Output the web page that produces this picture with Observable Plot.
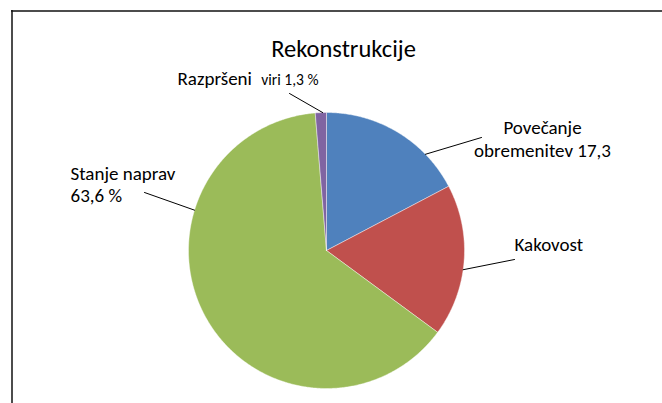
<!DOCTYPE html>
<html>
<head>
<meta charset="utf-8">
<script src="https://cdn.jsdelivr.net/npm/d3@7"></script>
<script src="https://cdn.jsdelivr.net/npm/@observablehq/plot@0.6"></script>
<style>
  html, body { margin: 0; padding: 0; background: #fff; }
  svg { display: block; }
</style>
</head>
<body>
<div id="chart"></div>
<script>
// ---- data ----
const categories = ["Povečanje obremenitev", "Kakovost", "Stanje naprav", "Razpršeni viri"];
const values = [17.3, 17.8, 63.6, 1.3];
const colors = ["#4F81BD", "#C0504D", "#9BBB59", "#8064A2"];
const title = "Rekonstrukcije";
const labelLines = [
  ["Povečanje", "obremenitev 17,3"],
  ["Kakovost"],
  ["Stanje naprav", "63,6 %"]
];
const smallLabelMain = "Razpršeni";
const smallLabelRest = "viri 1,3 %";

// ---- layout (not data) ----
const W = 662, H = 403;
const cx = 326, cy = 250, R = 138;
const layout = [
  {angle: 45.8, ex: 481, ey: 137, tx: 542, ty: [133, 156], anchor: "middle"},
  {angle: 98,   ex: 514, ey: 259, tx: 514, ty: [250], anchor: "start"},
  {angle: 287,  ex: 144, ey: 192, tx: 70,  ty: [179, 201.5], anchor: "start"},
  {angle: 358.4, ex: 289, ey: 93, tx: 177, ty: [84.5], anchor: "start"}
];

// ---- build slices ----
const arcs = d3.pie().sort(null).startAngle(0).endAngle(2 * Math.PI)(values);
const pts = [];
arcs.forEach((a, i) => {
  const name = categories[i];
  pts.push({name, x: cx, y: cy});
  const n = Math.max(2, Math.ceil((a.endAngle - a.startAngle) / (Math.PI / 360)));
  for (let k = 0; k <= n; k++) {
    const t = a.startAngle + (a.endAngle - a.startAngle) * k / n;
    pts.push({name, x: cx + R * Math.sin(t), y: cy - R * Math.cos(t)});
  }
  pts.push({name, x: cx, y: cy});
});

const leaders = [];
layout.forEach((l, i) => {
  const t = l.angle * Math.PI / 180;
  leaders.push({id: i, x: cx + R * Math.sin(t), y: cy - R * Math.cos(t)});
  leaders.push({id: i, x: l.ex, y: l.ey});
});

const texts = [];
labelLines.forEach((lines, i) => {
  lines.forEach((s, j) => texts.push({text: s, x: layout[i].tx, y: layout[i].ty[j], anchor: layout[i].anchor}));
});

const font = "Carlito, Calibri, Lato, 'Open Sans', sans-serif";
const textMark = (anchor) => Plot.text(texts.filter(d => d.anchor === anchor), {
  x: "x", y: "y", text: "text", textAnchor: anchor, fontSize: 19, fontWeight: 400, fill: "#000", lineAnchor: "bottom"
});

const chart = Plot.plot({
  width: W, height: H,
  margin: 0,
  x: {domain: [0, W], range: [0, W], axis: null},
  y: {domain: [0, H], range: [0, H], axis: null},
  color: {domain: categories, range: colors},
  style: {fontFamily: font, background: "#fff"},
  marks: [
    Plot.ruleY([10.5], {x1: 11, x2: W, stroke: "#111", strokeWidth: 1.5}),
    Plot.ruleX([11.5], {y1: 10, y2: H, stroke: "#111", strokeWidth: 1.5}),
    Plot.line(pts, {x: "x", y: "y", z: "name", fill: "name", stroke: "#fff", strokeWidth: 0.6, strokeOpacity: 0.7, curve: "linear-closed"}),
    Plot.line(leaders, {x: "x", y: "y", z: "id", stroke: "#000", strokeWidth: 1}),
    Plot.text([title], {x: () => 343, y: () => 56, text: d => d, fontSize: 24.5, fontWeight: 400, fill: "#000", lineAnchor: "bottom"}),
    textMark("middle"),
    textMark("start"),
    Plot.text([smallLabelMain], {x: () => layout[3].tx, y: () => layout[3].ty[0], text: d => d, fontSize: 19, fontWeight: 400, textAnchor: "start", fill: "#000", lineAnchor: "bottom"}),
    Plot.text([smallLabelRest], {x: () => 318, y: () => layout[3].ty[0], text: d => d, fontSize: 15.5, fontWeight: 400, textAnchor: "end", fill: "#000", lineAnchor: "bottom"})
  ]
});
document.getElementById("chart").appendChild(chart);
</script>
</body>
</html>
